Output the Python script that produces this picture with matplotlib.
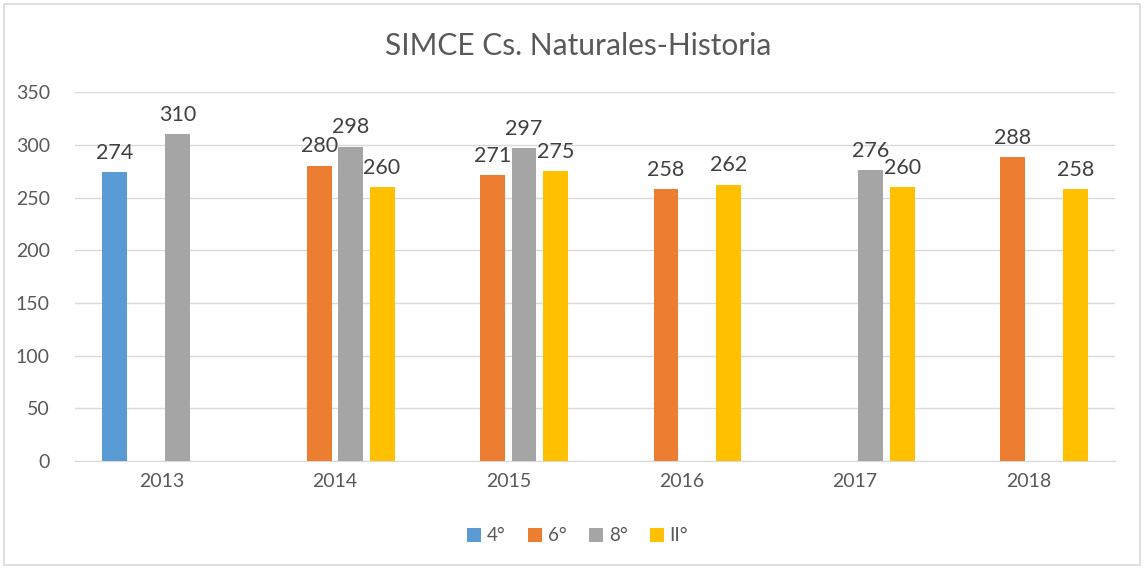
import matplotlib
matplotlib.use("Agg")
import matplotlib.pyplot as plt
import numpy as np
from matplotlib.patches import Rectangle

years = ["2013", "2014", "2015", "2016", "2017", "2018"]
series_names = ["4°", "6°", "8°", "II°"]
v4 = [274, None, None, None, None, None]
v6 = [None, 280, 271, 258, None, 288]
v8 = [310, 298, 297, None, 276, None]
vII = [None, 260, 275, 262, 260, 258]
colors = ["#5B9BD5", "#ED7D31", "#A5A5A5", "#FFC000"]

plt.rcParams['font.family'] = ['Lato', 'DejaVu Sans']

fig = plt.figure(figsize=(11.44, 5.69), dpi=100)
ax = fig.add_axes([0.0655, 0.190, 0.9092, 0.648])

x = np.arange(len(years))
spacing = 0.181
width = 0.144
all_series = [v4, v6, v8, vII]
for i, (vals, c, name) in enumerate(zip(all_series, colors, series_names)):
    off = (i - 1.5) * spacing
    xs = [xi + off for xi, v in zip(x, vals) if v is not None]
    ys = [v for v in vals if v is not None]
    ax.bar(xs, ys, width=width, color=c, label=name, zorder=3)
    for xx, yy in zip(xs, ys):
        ax.text(xx, yy + 9, str(yy), ha='center', va='bottom', fontsize=15.5, color='#404040')

ax.set_xlim(-0.5, len(years) - 0.5)
ax.set_ylim(0, 350)
ax.set_yticks(range(0, 351, 50))
ax.set_xticks(x)
ax.set_xticklabels(years)
ax.tick_params(axis='both', length=0, labelsize=14, labelcolor='#595959')
ax.tick_params(axis='y', pad=18)
ax.tick_params(axis='x', pad=9)
ax.grid(axis='y', color='#D9D9D9', linewidth=1, zorder=0)
for s in ['top', 'right', 'left']:
    ax.spines[s].set_visible(False)
ax.spines['bottom'].set_color('#D9D9D9')

fig.text(0.505, 0.92, "SIMCE Cs. Naturales-Historia", ha='center', va='center', fontsize=21.5, color='#595959')

leg = fig.legend(loc='center', bbox_to_anchor=(0.505, 0.058), ncol=4, frameon=False,
                 fontsize=13.5, handlelength=0.75, handleheight=0.75, handletextpad=0.3, columnspacing=1.2)
for t in leg.get_texts():
    t.set_color('#595959')

fig.patches.append(Rectangle((0.0035, 0.007), 0.993, 0.986, transform=fig.transFigure,
                             fill=False, edgecolor='#D9D9D9', linewidth=1.2))

fig.savefig("out.png", dpi=100)
